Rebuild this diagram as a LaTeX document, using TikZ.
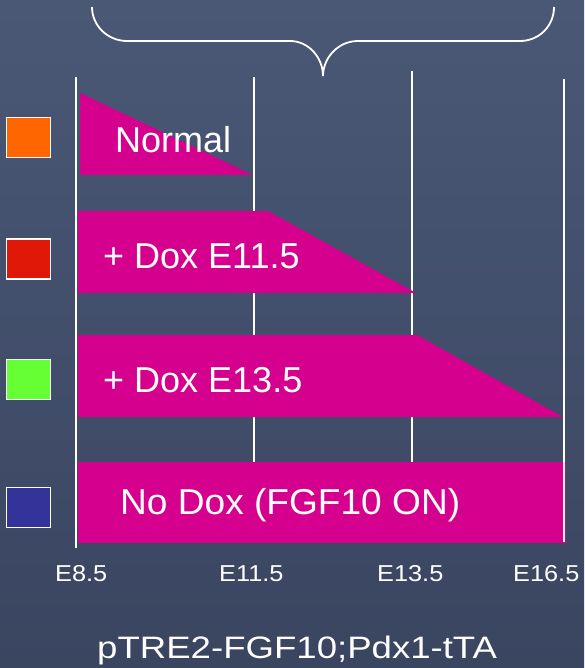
\documentclass[tikz,border=0pt]{standalone}
\usepackage{fontspec}
\setmainfont{Liberation Sans}
\definecolor{bgtop}{RGB}{74,88,118}
\definecolor{bgbot}{RGB}{58,69,96}
\definecolor{mag}{RGB}{214,0,142}
\definecolor{sqorange}{RGB}{255,102,0}
\definecolor{sqred}{RGB}{224,24,8}
\definecolor{sqgreen}{RGB}{102,255,51}
\definecolor{sqblue}{RGB}{51,51,153}
\tikzset{
  vline/.style={draw=white, line width=1.5pt},
  bar/.style={fill=mag},
  swatch/.style={draw=white, line width=1.3pt, minimum width=44pt, minimum height=40pt, inner sep=0pt},
  barlabel/.style={text=white, inner sep=0pt, anchor=base west, font=\fontsize{36}{40}\selectfont},
  ticklabel/.style={text=white, inner sep=0pt, anchor=base west, xscale=1.1, font=\fontsize{23}{28}\selectfont},
  titlelabel/.style={text=white, inner sep=0pt, anchor=base west, xscale=1.18, font=\fontsize{31}{38}\selectfont},
}
\begin{document}
\begin{tikzpicture}[x=1pt,y=-1pt]
\shade[top color=bgtop, bottom color=bgbot] (0,0) rectangle (584,668);
\useasboundingbox (0,0) rectangle (584,668);
% brace
\draw[white, line width=1.8pt] (92,7) .. controls (92,26) and (108,41) .. (127,41) -- (290,41)
  .. controls (309,41) and (323,58) .. (323,76)
  .. controls (323,58) and (338,41) .. (358,41) -- (520,41)
  .. controls (539,41) and (554,26) .. (554,7);
% vertical lines
\draw[vline] (76,77) -- (76,548);
\draw[vline] (254,77) -- (254,540);
\draw[vline] (412,71) -- (412,540);
\draw[vline] (564,79) -- (564,542);
% bars
\fill[bar] (80,93) -- (253,175) -- (80,175) -- cycle;
\fill[bar] (78,211) -- (268,211) -- (416,293) -- (78,293) -- cycle;
\fill[bar] (78,335) -- (417,335) -- (563,417) -- (78,417) -- cycle;
\fill[bar] (78,462) rectangle (566,543);
\draw[vline] (564,462) -- (564,542);
% swatches
\node[swatch, fill=sqorange] (sq1) at (28.5,137.5) {};
\node[swatch, fill=sqred] (sq2) at (28.5,259) {};
\node[swatch, fill=sqgreen] (sq3) at (28.5,379.5) {};
\node[swatch, fill=sqblue] (sq4) at (28.5,507.5) {};
% bar labels
\node[barlabel] (l1) at (115,153) {Normal};
\node[barlabel] (l2) at (103,268) {+ Dox E11.5};
\node[barlabel] (l3) at (103,392) {+ Dox E13.5};
\node[barlabel, xscale=1.03] (l4) at (120,514) {No Dox (FGF10 ON)};
% ticks
\node[ticklabel] (t1) at (55,581) {E8.5};
\node[ticklabel] (t2) at (219,581) {E11.5};
\node[ticklabel] (t3) at (377,581) {E13.5};
\node[ticklabel] (t4) at (513,581) {E16.5};
% title
\node[titlelabel] (title) at (97,658) {pTRE2-FGF10;Pdx1-tTA};
\end{tikzpicture}
\end{document}
